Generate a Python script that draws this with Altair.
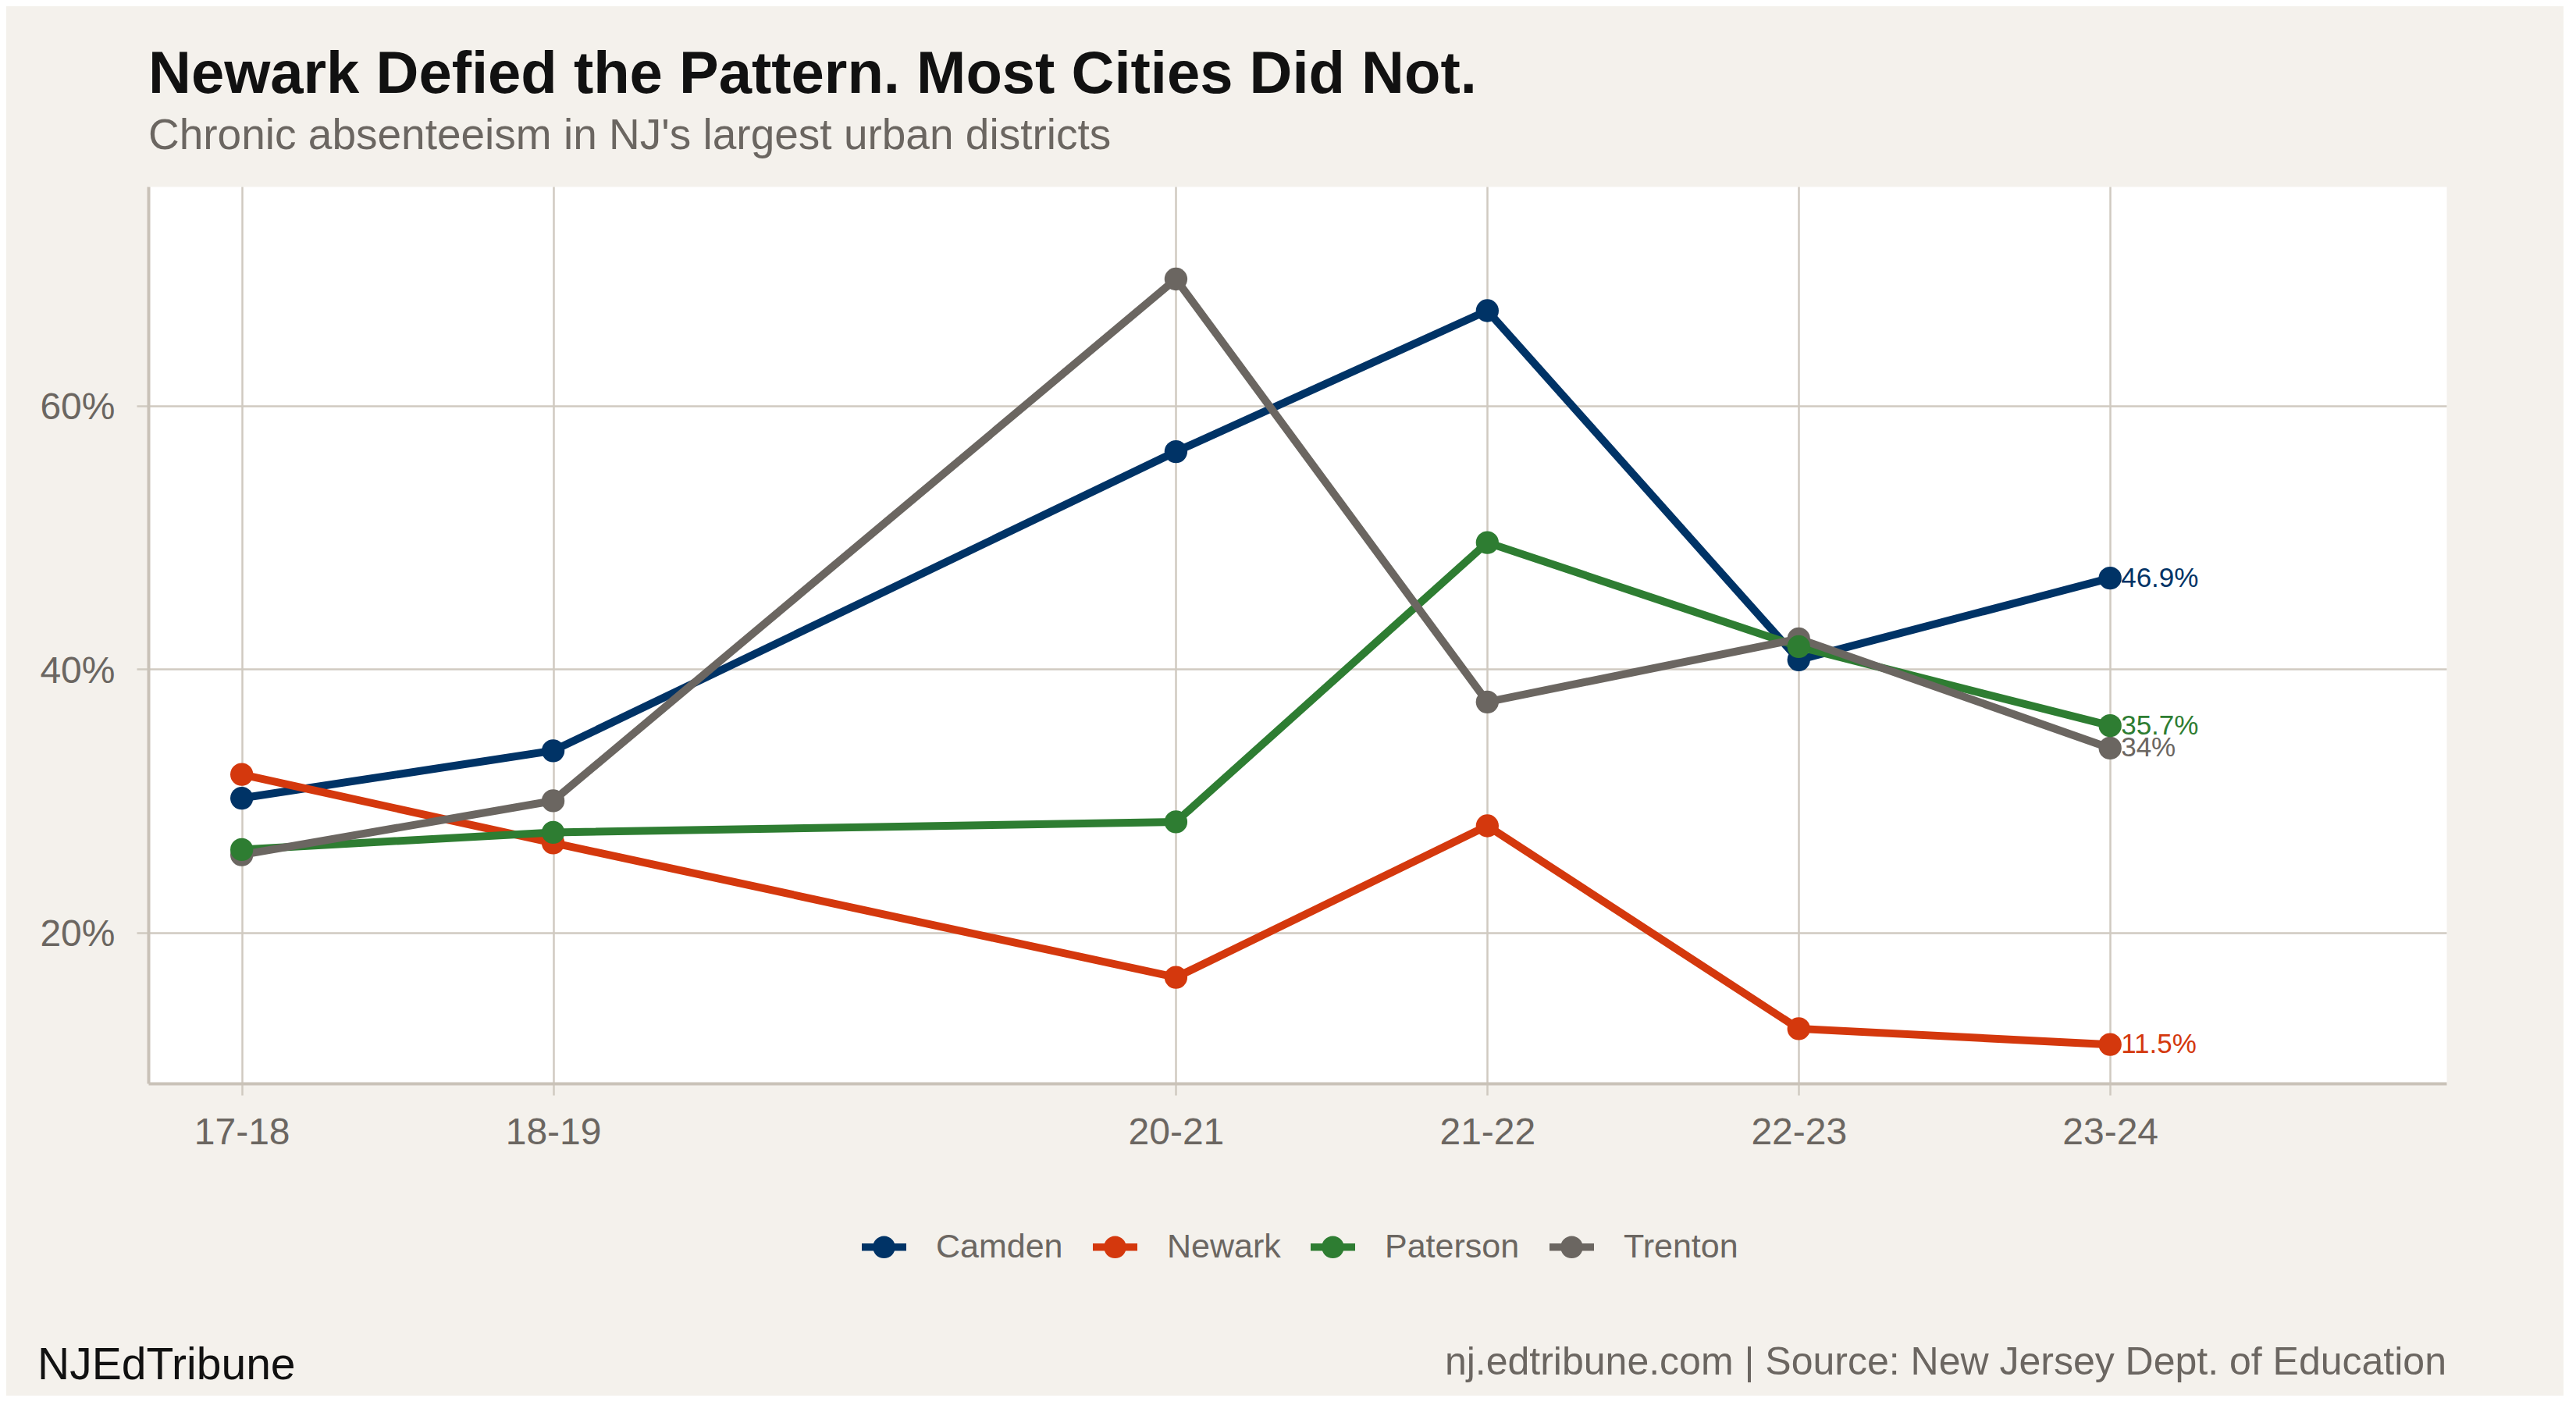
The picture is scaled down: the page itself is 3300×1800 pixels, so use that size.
import altair as alt
import pandas as pd

# ---------------- data ----------------
years = ["17-18", "18-19", "20-21", "21-22", "22-23", "23-24"]
cities = ["Camden", "Newark", "Paterson", "Trenton"]
camden = [30.2, 33.8, 56.5, 67.2, 40.7, 46.9]
newark = [32.0, 26.8, 16.6, 28.1, 12.7, 11.5]
paterson = [26.3, 27.6, 28.4, 49.6, 41.7, 35.7]
trenton = [25.9, 30.0, 69.6, 37.5, 42.3, 34.0]
colors = ["#003366", "#D4380D", "#2E7D32", "#6B6661"]
y_ticks = [20, 40, 60]
title_text = "Newark Defied the Pattern. Most Cities Did Not."
subtitle_text = "Chronic absenteeism in NJ's largest urban districts"
brand_text = ["NJEdTribune"]
source_text = ["nj.edtribune.com | Source: New Jersey Dept. of Education"]

rows = []
for city, vals in zip(cities, [camden, newark, paterson, trenton]):
    for yl, v in zip(years, vals):
        rows.append({"city": city, "year": int("20" + yl[:2]), "label": yl,
                     "value": v, "text": f"{v:g}%"})
df = pd.DataFrame(rows)
point_order = ["Camden", "Newark", "Trenton", "Paterson"]
df_pts = pd.concat([df[df.city == c] for c in point_order])
df_end = df[df.year == df.year.max()]
year_vals = [int("20" + y[:2]) for y in years]

FONT = "Liberation Sans"
GRAY = "#6B6661"
GRID = "#D0CAC1"

W, H = 2944, 1149

x_enc = alt.X(
    "year:Q",
    scale=alt.Scale(domain=[2016.7, 2024.08], nice=False, zero=False),
    axis=alt.Axis(values=year_vals, title=None, labelPadding=24, labelFlush=False,
                  labelOverlap=False,
                  labelExpr="slice(toString(datum.value), 2) + '-' + slice(toString(datum.value + 1), 2)"),
)
y_enc = alt.Y(
    "value:Q",
    scale=alt.Scale(domain=[8.55, 76.62], nice=False, zero=False),
    axis=alt.Axis(values=y_ticks, title=None, labelPadding=28, labelOffset=3,
                  labelExpr="datum.value + '%'"),
)

legend_path = ("M-1,-0.17L1,-0.17L1,0.17L-1,0.17Z "
               "M0.503,0A0.503,0.503,0,1,1,-0.503,0A0.503,0.503,0,1,1,0.503,0Z")

lines = alt.Chart(df).mark_line(strokeWidth=10).encode(
    x=x_enc, y=y_enc,
    stroke=alt.Stroke("city:N", scale=alt.Scale(domain=cities, range=colors), legend=None),
)

points = alt.Chart(df_pts).mark_point(filled=True, size=860, opacity=1, shape="circle").encode(
    x=x_enc, y=y_enc,
    color=alt.Color(
        "city:N", scale=alt.Scale(domain=cities, range=colors),
        legend=alt.Legend(
            title="City", titleOrient="left", titleFontSize=1, titleOpacity=0,
            titlePadding=0,
            orient="none", direction="horizontal",
            legendX=912, legendY=1330, padding=0,
            symbolType=legend_path, symbolSize=3249, symbolStrokeWidth=0,
            symbolOpacity=1, labelFont=FONT, labelFontSize=43, labelColor=GRAY,
            labelOffset=38, columnPadding=38, labelLimit=0,
        ),
    ),
)

end_labels = alt.Chart(df_end).mark_text(
    align="left", baseline="middle", dx=14, font=FONT, fontSize=35
).encode(
    x=x_enc, y=y_enc, text="text:N",
    fill=alt.Fill("city:N", scale=alt.Scale(domain=cities, range=colors), legend=None),
)

brand = alt.Chart(pd.DataFrame({"t": brand_text})).mark_text(
    align="left", baseline="alphabetic", font=FONT, fontSize=57, color="#111111"
).encode(x=alt.value(-142), y=alt.value(1528), text="t:N")

source = alt.Chart(pd.DataFrame({"t": source_text})).mark_text(
    align="right", baseline="alphabetic", font=FONT, fontSize=50, color=GRAY
).encode(x=alt.value(W), y=alt.value(1522), text="t:N")

chart = alt.layer(lines, points, end_labels, brand, source).properties(
    width=W, height=H,
    autosize=alt.AutoSizeParams(type="none"),
    padding={"left": 182, "top": 231, "right": 150, "bottom": 400},
    title=alt.Title(
        text=title_text, subtitle=subtitle_text, anchor="start", frame="group",
        offset=36, subtitlePadding=13,
        font=FONT, fontSize=76, fontWeight="bold", color="#111111",
        subtitleFont=FONT, subtitleFontSize=55, subtitleColor=GRAY,
    ),
).resolve_legend(color="independent").configure(
    background="#F4F1EC",
).configure_view(
    fill="white", stroke="transparent",
).configure_axis(
    labelFont=FONT, labelFontSize=48, labelColor=GRAY,
    gridColor=GRID, gridWidth=2.5,
    domainColor="#C9C2B8", domainWidth=4,
    tickColor=GRID, tickWidth=2.5, tickSize=15,
)

chart.save("out.html", embed_options={"renderer": "svg", "actions": False})
